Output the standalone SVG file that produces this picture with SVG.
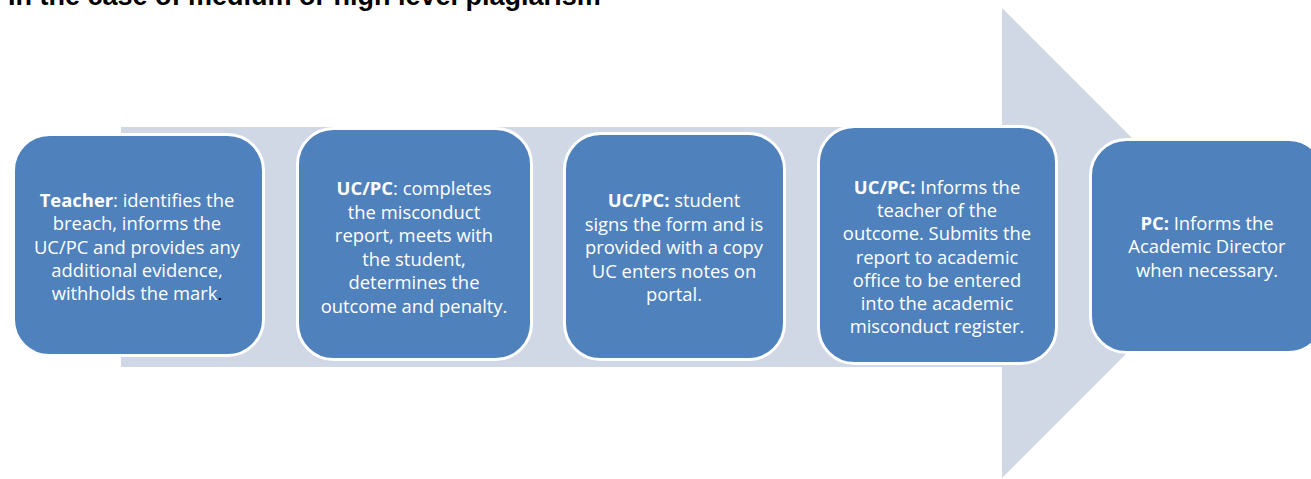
<svg xmlns="http://www.w3.org/2000/svg" width="1311" height="479" viewBox="0 0 1311 479">
<style>
.box{fill:#4F81BD;stroke:#FFFFFF;stroke-width:3}
.t{font-family:"Open Sans","Liberation Sans",sans-serif;font-size:18.4px;fill:#FFFFFF;text-anchor:middle}
.b{font-weight:bold}
.title{font-family:"Liberation Sans",Arial,sans-serif;font-size:27px;font-weight:bold;fill:#000000}
</style>
<rect width="1311" height="479" fill="#FFFFFF"/>
<text class="title" x="8" y="5">In the case of medium or high level plagiarism</text>
<g id="connectors">
<polygon points="121,127 1002,127 1002,8 1237,243 1002,478 1002,367 121,367" fill="#D0D7E5"/>
</g>
<g id="node1">
<rect class="box" x="13.5" y="134.5" width="250" height="221" rx="36"/>
<text class="t" y="207"><tspan x="137"><tspan class="b">Teacher</tspan>: identifies the</tspan><tspan x="137" dy="23.25">breach, informs the</tspan><tspan x="137" dy="23.25">UC/PC and provides any</tspan><tspan x="137" dy="23.25">additional evidence,</tspan><tspan x="137" dy="23.25">withholds the mark<tspan fill="#000000">.</tspan></tspan></text>
</g>
<g id="node2">
<rect class="box" x="297.5" y="128.5" width="234" height="231" rx="36"/>
<text class="t" y="195"><tspan x="414"><tspan class="b">UC/PC</tspan>: completes</tspan><tspan x="414" dy="23.5">the misconduct</tspan><tspan x="414" dy="23.5">report, meets with</tspan><tspan x="414" dy="23.5">the student,</tspan><tspan x="414" dy="23.5">determines the</tspan><tspan x="414" dy="23.5">outcome and penalty.</tspan></text>
</g>
<g id="node3">
<rect class="box" x="564.5" y="133.5" width="220" height="226" rx="36"/>
<text class="t" y="207"><tspan x="674"><tspan class="b">UC/PC:</tspan> student</tspan><tspan x="674" dy="23.6">signs the form and is</tspan><tspan x="674" dy="23.6">provided with a copy</tspan><tspan x="674" dy="23.6">UC enters notes on</tspan><tspan x="674" dy="23.6">portal.</tspan></text>
</g>
<g id="node4">
<rect class="box" x="818.5" y="126.5" width="238" height="237" rx="36"/>
<text class="t" y="194"><tspan x="937"><tspan class="b">UC/PC:</tspan> Informs the</tspan><tspan x="937" dy="23.2">teacher of the</tspan><tspan x="937" dy="23.2">outcome. Submits the</tspan><tspan x="937" dy="23.2">report to academic</tspan><tspan x="937" dy="23.2">office to be entered</tspan><tspan x="937" dy="23.2">into the academic</tspan><tspan x="937" dy="23.2">misconduct register.</tspan></text>
</g>
<g id="node5">
<rect class="box" x="1090.5" y="139.5" width="234" height="213" rx="36"/>
<text class="t" y="230"><tspan x="1207"><tspan class="b">PC:</tspan> Informs the</tspan><tspan x="1207" dy="23.3">Academic Director</tspan><tspan x="1207" dy="23.3">when necessary.</tspan></text>
</g>
</svg>
